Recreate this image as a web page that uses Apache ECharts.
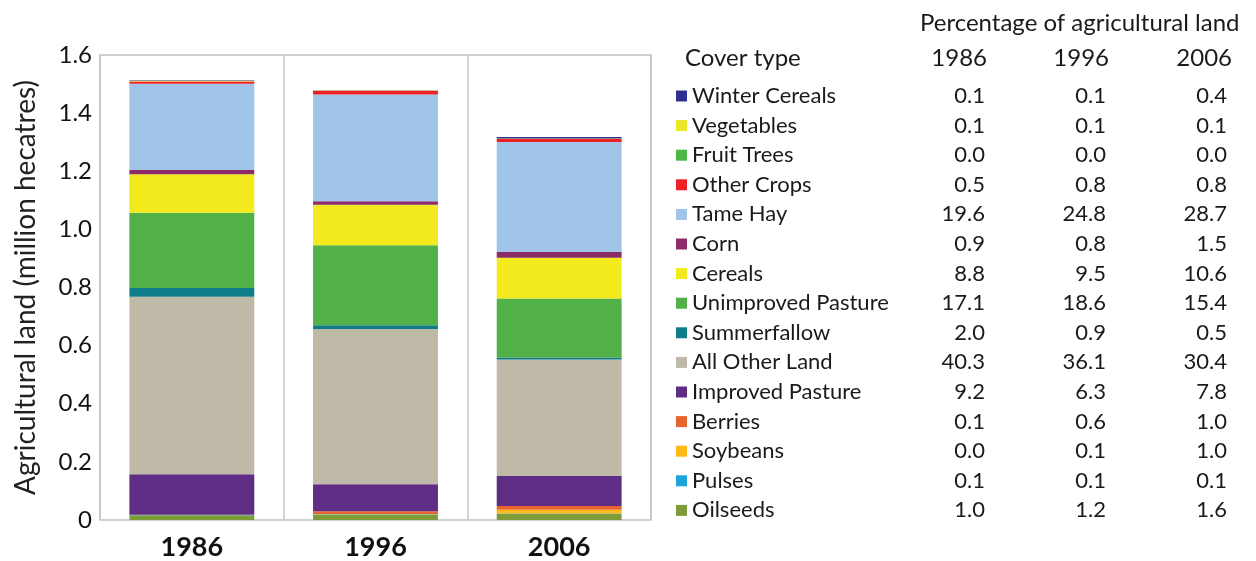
<!DOCTYPE html>
<html>
<head>
<meta charset="utf-8">
<script src="https://cdn.jsdelivr.net/npm/echarts@6/dist/echarts.min.js"></script>
<style>
  html, body { margin: 0; padding: 0; background: #fff; }
  #main { width: 1256px; height: 561px; }
</style>
</head>
<body>
<div id="main"></div>
<script>
// years on the x axis
var years = ['1986', '1996', '2006'];

// cover types, bottom of the stack first
var coverTypes = ['Oilseeds', 'Pulses', 'Soybeans', 'Berries', 'Improved Pasture', 'All Other Land',
  'Summerfallow', 'Unimproved Pasture', 'Cereals', 'Corn', 'Tame Hay', 'Other Crops',
  'Fruit Trees', 'Vegetables', 'Winter Cereals'];

var coverColors = ['#7f9b38', '#1ea3dc', '#fdb914', '#e8642c', '#5f2d83', '#bfb9a7',
  '#0f7c89', '#51b148', '#f2ea1c', '#8e2c6a', '#a0c5e8', '#ee1f25',
  '#4cb848', '#ebe627', '#2e3192'];

// area (million ha): 1986, 1996, 2006
var oilseeds          = [0.016, 0.018, 0.021];
var pulses            = [0.001, 0.0015, 0.0013];
var soybeans          = [0.000, 0.0015, 0.013];
var berries           = [0.001, 0.009, 0.013];
var improvedPasture   = [0.139, 0.093, 0.103];
var allOtherLand      = [0.611, 0.534, 0.401];
var summerfallow      = [0.030, 0.013, 0.007];
var unimprovedPasture = [0.259, 0.275, 0.203];
var cereals           = [0.133, 0.140, 0.140];
var corn              = [0.014, 0.012, 0.020];
var tameHay           = [0.297, 0.367, 0.378];
var otherCrops        = [0.008, 0.012, 0.011];
var fruitTrees        = [0.000, 0.000, 0.000];
var vegetables        = [0.002, 0.0015, 0.0013];
var winterCereals     = [0.002, 0.0015, 0.005];

var seriesValues = [oilseeds, pulses, soybeans, berries, improvedPasture, allOtherLand,
  summerfallow, unimprovedPasture, cereals, corn, tameHay, otherCrops,
  fruitTrees, vegetables, winterCereals];

// percentage of agricultural land (table text): 1986, 1996, 2006
var pctTable = {
  'Winter Cereals':     ['0.1', '0.1', '0.4'],
  'Vegetables':         ['0.1', '0.1', '0.1'],
  'Fruit Trees':        ['0.0', '0.0', '0.0'],
  'Other Crops':        ['0.5', '0.8', '0.8'],
  'Tame Hay':           ['19.6', '24.8', '28.7'],
  'Corn':               ['0.9', '0.8', '1.5'],
  'Cereals':            ['8.8', '9.5', '10.6'],
  'Unimproved Pasture': ['17.1', '18.6', '15.4'],
  'Summerfallow':       ['2.0', '0.9', '0.5'],
  'All Other Land':     ['40.3', '36.1', '30.4'],
  'Improved Pasture':   ['9.2', '6.3', '7.8'],
  'Berries':            ['0.1', '0.6', '1.0'],
  'Soybeans':           ['0.0', '0.1', '1.0'],
  'Pulses':             ['0.1', '0.1', '0.1'],
  'Oilseeds':           ['1.0', '1.2', '1.6']
};

var yTicks = { min: 0, max: 1.6, interval: 0.2 };

var FONT = 'Lato, "Open Sans", sans-serif';

var chart = echarts.init(document.getElementById('main'));

var series = [];
for (var i = 0; i < coverTypes.length; i++) {
  series.push({
    name: coverTypes[i],
    type: 'bar',
    stack: 'land',
    barCategoryGap: '32%',
    itemStyle: { color: coverColors[i] },
    data: seriesValues[i]
  });
}

var rowStyle = { fontFamily: FONT, fontSize: 22, color: '#1a1a1a', lineHeight: 22 };
function rs(extra) { return Object.assign({}, rowStyle, extra); }

var headFont = '24px ' + FONT;

var option = {
  animation: false,
  textStyle: { fontFamily: FONT },
  grid: {
    left: 100, right: 605, top: 55, bottom: 40,
    show: true, borderColor: '#c4c4c4', borderWidth: 1.5
  },
  xAxis: {
    type: 'category',
    data: years,
    axisLine: { show: false },
    axisTick: { show: false },
    splitLine: { show: true, lineStyle: { color: '#c4c4c4', width: 1.5 } },
    axisLabel: { fontFamily: FONT, fontSize: 27, fontWeight: 'bold', color: '#111', margin: 14 }
  },
  yAxis: {
    type: 'value',
    min: yTicks.min, max: yTicks.max, interval: yTicks.interval,
    name: 'Agricultural land (million hecatres)',
    nameLocation: 'middle',
    nameGap: 60,
    nameTextStyle: { fontFamily: FONT, fontSize: 28, color: '#222' },
    axisLine: { show: false },
    axisTick: { show: false },
    splitLine: { show: false },
    axisLabel: {
      fontFamily: FONT, fontSize: 24, color: '#111', margin: 8,
      formatter: function (v) { return v === 0 ? '0' : v.toFixed(1); }
    }
  },
  legend: {
    orient: 'vertical',
    left: 671, top: 80,
    itemWidth: 11, itemHeight: 11,
    itemGap: 7.6,
    icon: 'rect',
    data: coverTypes.slice().reverse(),
    formatter: function (name) {
      var p = pctTable[name];
      return '{n|' + name + '}{a|' + p[0] + '}{b|' + p[1] + '}{c|' + p[2] + '}';
    },
    textStyle: {
      rich: {
        n: rs({ width: 232, align: 'left' }),
        a: rs({ width: 61, align: 'right' }),
        b: rs({ width: 121, align: 'right' }),
        c: rs({ width: 121, align: 'right' })
      }
    }
  },
  graphic: [
    { type: 'text', left: 920, top: 11, style: { text: 'Percentage of agricultural land', font: headFont, fill: '#1a1a1a' } },
    { type: 'text', left: 685, top: 46, style: { text: 'Cover type', font: headFont, fill: '#1a1a1a' } },
    { type: 'text', right: 1256 - 987, top: 46, style: { text: '1986', font: headFont, fill: '#1a1a1a' } },
    { type: 'text', right: 1256 - 1109, top: 46, style: { text: '1996', font: headFont, fill: '#1a1a1a' } },
    { type: 'text', right: 1256 - 1232, top: 46, style: { text: '2006', font: headFont, fill: '#1a1a1a' } }
  ],
  series: series
};

chart.setOption(option);
</script>
</body>
</html>
